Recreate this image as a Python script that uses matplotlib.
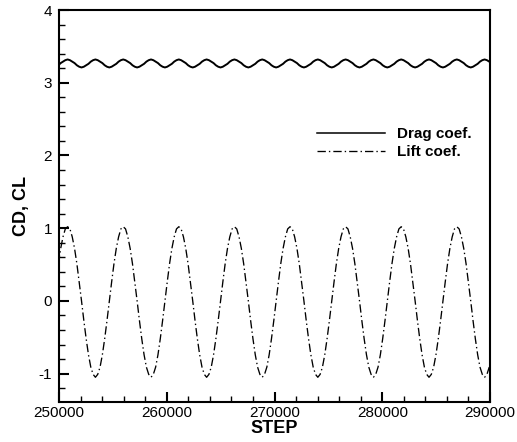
import matplotlib
matplotlib.use("Agg")
import matplotlib.pyplot as plt
from matplotlib.ticker import MultipleLocator

plt.rcParams['font.family'] = ['Liberation Sans', 'DejaVu Sans']
plt.rcParams['lines.scale_dashes'] = False

# Sampling grid of the time steps (every 215 steps)
STEP = list(range(249940, 290000, 215))

# Lift coefficient
LIFT = [0.51, 0.72, 0.88, 0.99,
        1.02, 0.99, 0.88, 0.72, 0.51, 0.26, 0.00, -0.27, -0.52, -0.74, -0.91, -1.01,
        -1.05, -1.01, -0.91, -0.74, -0.52, -0.27, 0.00, 0.26, 0.51, 0.72, 0.88, 0.99,
        1.02, 0.99, 0.88, 0.72, 0.51, 0.26, 0.00, -0.27, -0.52, -0.74, -0.91, -1.01,
        -1.05, -1.01, -0.91, -0.74, -0.52, -0.27, 0.00, 0.26, 0.51, 0.72, 0.88, 0.99,
        1.02, 0.99, 0.88, 0.72, 0.51, 0.26, 0.00, -0.27, -0.52, -0.74, -0.91, -1.01,
        -1.05, -1.01, -0.91, -0.74, -0.52, -0.27, 0.00, 0.26, 0.51, 0.72, 0.88, 0.99,
        1.02, 0.99, 0.88, 0.72, 0.51, 0.26, 0.00, -0.27, -0.52, -0.74, -0.91, -1.01,
        -1.05, -1.01, -0.91, -0.74, -0.52, -0.27, 0.00, 0.26, 0.51, 0.72, 0.88, 0.99,
        1.02, 0.99, 0.88, 0.72, 0.51, 0.26, 0.00, -0.27, -0.52, -0.74, -0.91, -1.01,
        -1.05, -1.01, -0.91, -0.74, -0.52, -0.27, 0.00, 0.26, 0.51, 0.72, 0.88, 0.99,
        1.02, 0.99, 0.88, 0.72, 0.51, 0.26, 0.00, -0.27, -0.52, -0.74, -0.91, -1.01,
        -1.05, -1.01, -0.91, -0.74, -0.52, -0.27, 0.00, 0.26, 0.51, 0.72, 0.88, 0.99,
        1.02, 0.99, 0.88, 0.72, 0.51, 0.26, 0.00, -0.27, -0.52, -0.74, -0.91, -1.01,
        -1.05, -1.01, -0.91, -0.74, -0.52, -0.27, 0.00, 0.26, 0.51, 0.72, 0.88, 0.99,
        1.02, 0.99, 0.88, 0.72, 0.51, 0.26, 0.00, -0.27, -0.52, -0.74, -0.91, -1.01,
        -1.05, -1.01, -0.91]

# Drag coefficient
DRAG = [3.24, 3.27, 3.29, 3.31,
        3.32, 3.31, 3.29, 3.27, 3.24, 3.22, 3.21, 3.22, 3.24, 3.26, 3.29, 3.31,
        3.32, 3.31, 3.29, 3.27, 3.24, 3.22, 3.21, 3.22, 3.24, 3.26, 3.29, 3.31,
        3.32, 3.31, 3.29, 3.27, 3.24, 3.22, 3.21, 3.22, 3.24, 3.26, 3.29, 3.31,
        3.32, 3.31, 3.29, 3.27, 3.24, 3.22, 3.21, 3.22, 3.24, 3.26, 3.29, 3.31,
        3.32, 3.31, 3.29, 3.27, 3.24, 3.22, 3.21, 3.22, 3.24, 3.26, 3.29, 3.31,
        3.32, 3.31, 3.29, 3.27, 3.24, 3.22, 3.21, 3.22, 3.24, 3.26, 3.29, 3.31,
        3.32, 3.31, 3.29, 3.27, 3.24, 3.22, 3.21, 3.22, 3.24, 3.26, 3.29, 3.31,
        3.32, 3.31, 3.29, 3.27, 3.24, 3.22, 3.21, 3.22, 3.24, 3.26, 3.29, 3.31,
        3.32, 3.31, 3.29, 3.27, 3.24, 3.22, 3.21, 3.22, 3.24, 3.26, 3.29, 3.31,
        3.32, 3.31, 3.29, 3.27, 3.24, 3.22, 3.21, 3.22, 3.24, 3.26, 3.29, 3.31,
        3.32, 3.31, 3.29, 3.27, 3.24, 3.22, 3.21, 3.22, 3.24, 3.26, 3.29, 3.31,
        3.32, 3.31, 3.29, 3.27, 3.24, 3.22, 3.21, 3.22, 3.24, 3.26, 3.29, 3.31,
        3.32, 3.31, 3.29, 3.27, 3.24, 3.22, 3.21, 3.22, 3.24, 3.26, 3.29, 3.31,
        3.32, 3.31, 3.29, 3.27, 3.24, 3.22, 3.21, 3.22, 3.24, 3.26, 3.29, 3.31,
        3.32, 3.31, 3.29, 3.27, 3.24, 3.22, 3.21, 3.22, 3.24, 3.26, 3.29, 3.31,
        3.32, 3.31, 3.29]

X_TICKS = [250000, 260000, 270000, 280000, 290000]
Y_TICKS = [-1, 0, 1, 2, 3, 4]
SERIES_LABELS = ["Drag coef.", "Lift coef."]

fig = plt.figure(figsize=(5.17, 4.42), dpi=100)
ax = fig.add_axes([59/517, 1 - 402/442, (490 - 59)/517, (402 - 10)/442])

n = min(len(STEP), len(LIFT), len(DRAG))
ax.plot(STEP[:n], DRAG[:n], color='black', lw=1.4, label=SERIES_LABELS[0])
ax.plot(STEP[:n], LIFT[:n], color='black', lw=0.95, dashes=(6, 2.2, 1, 2.2),
        label=SERIES_LABELS[1])

ax.set_xlim(250000, 290000)
ax.set_ylim(-1.39, 4)
ax.set_xticks(X_TICKS)
ax.set_xticklabels([str(v) for v in X_TICKS])
ax.set_yticks(Y_TICKS)
ax.set_yticklabels([str(v) for v in Y_TICKS])
ax.xaxis.set_minor_locator(MultipleLocator(2000))
ax.yaxis.set_minor_locator(MultipleLocator(0.2))
ax.tick_params(which='both', direction='in', top=False, right=False,
               labelsize=11)
ax.tick_params(which='major', length=7, width=1.5)
ax.tick_params(which='minor', length=4.5, width=1.0)
ax.tick_params(axis='x', which='major', pad=3)
ax.tick_params(axis='y', which='major', pad=5)
for s in ax.spines.values():
    s.set_linewidth(1.5)

ax.set_xlabel("STEP", fontsize=13, fontweight='bold', labelpad=0)
ax.set_ylabel("CD, CL", fontsize=13, fontweight='bold', labelpad=6)

leg = ax.legend(loc='center left', bbox_to_anchor=(317/517, 1 - 143/442),
                bbox_transform=fig.transFigure, frameon=False,
                prop={'weight': 'bold', 'size': 11}, handlelength=4.45,
                handletextpad=0.8, labelspacing=0.25, borderpad=0,
                borderaxespad=0)
leg.get_lines()[0].set_linewidth(1.1)

fig.savefig("out.png", dpi=100)
